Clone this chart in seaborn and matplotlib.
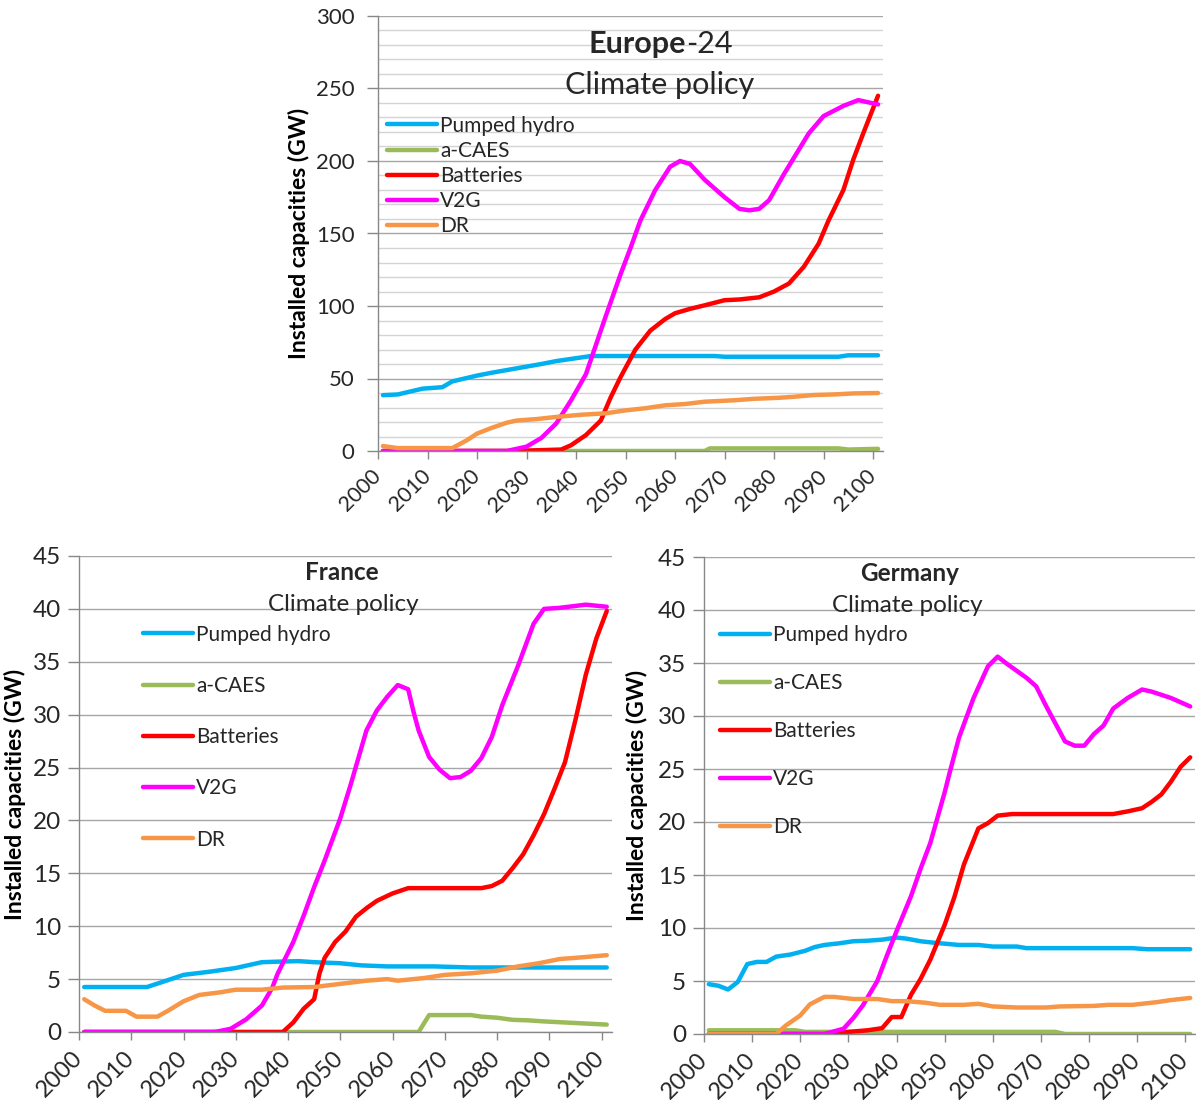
import matplotlib
matplotlib.use("Agg")
import matplotlib.pyplot as plt
from matplotlib.ticker import MultipleLocator
import seaborn as sns
import pandas as pd

SERIES = ["Pumped hydro", "a-CAES", "Batteries", "V2G", "DR"]
COLORS = ["#00B0F0", "#9BBB59", "#FF0000", "#FF00FF", "#F79646"]
YEAR_TICKS = [2000, 2010, 2020, 2030, 2040, 2050, 2060, 2070, 2080, 2090, 2100]

# ---------------- Europe-24 ----------------
EU_PH_YEARS = [2001, 2004, 2009, 2013, 2015, 2020, 2023, 2028, 2033, 2036, 2040, 2043, 2068, 2070, 2093, 2095, 2101]
EU_PH_VALUES = [38.5, 39, 43, 44, 48, 52, 54, 57, 60, 62, 64, 65.5, 65.5, 65, 65, 66, 66]
EU_CAES_YEARS = [2001, 2066, 2067, 2093, 2095, 2101]
EU_CAES_VALUES = [0, 0, 1.8, 1.8, 1.0, 1.5]
EU_BAT_YEARS = [2001, 2027, 2037, 2039, 2042, 2045, 2047, 2049, 2052, 2055, 2058, 2060, 2063, 2066,
                2070, 2073, 2077, 2080, 2083, 2086, 2089, 2091, 2094, 2096, 2098, 2101]
EU_BAT_VALUES = [0, 0, 1, 4, 11, 21, 37, 51, 70, 83, 91, 95, 98, 100.5,
                 104, 104.5, 106, 110, 115.5, 127, 143, 159, 180, 201, 219, 245]
EU_V2G_YEARS = [2001, 2026, 2030, 2033, 2036, 2039, 2042, 2044, 2046, 2049, 2051, 2053, 2056, 2059,
                2061, 2063, 2066, 2070, 2073, 2075, 2077, 2079, 2082, 2087, 2090, 2094, 2097, 2101]
EU_V2G_VALUES = [0, 0, 3, 9, 19, 35, 53, 73, 93, 122, 140, 159, 180, 196,
                 200, 198, 187, 175, 167, 166, 167, 173, 191, 219, 231, 238, 242, 239]
EU_DR_YEARS = [2001, 2004, 2015, 2018, 2020, 2023, 2026, 2028, 2032, 2036, 2041, 2046, 2050, 2054,
               2058, 2062, 2066, 2072, 2076, 2081, 2084, 2088, 2092, 2096, 2101]
EU_DR_VALUES = [3.4, 2, 2, 7.5, 12, 16, 19.5, 21, 22, 23.5, 25, 26, 28, 29.5,
                31.5, 32.4, 34, 35, 36, 36.7, 37.4, 38.6, 39, 39.7, 40]

# ---------------- France ----------------
FR_PH_YEARS = [2001, 2013, 2017, 2020, 2025, 2030, 2035, 2038, 2042, 2045, 2050, 2054, 2059, 2068, 2075, 2101]
FR_PH_VALUES = [4.25, 4.25, 4.9, 5.4, 5.7, 6.05, 6.6, 6.65, 6.7, 6.6, 6.5, 6.3, 6.2, 6.2, 6.1, 6.1]
FR_CAES_YEARS = [2001, 2065, 2067, 2075, 2077, 2080, 2083, 2086, 2089, 2093, 2097, 2101]
FR_CAES_VALUES = [0, 0, 1.6, 1.6, 1.45, 1.35, 1.15, 1.1, 1.0, 0.9, 0.8, 0.7]
FR_BAT_YEARS = [2001, 2039, 2041, 2043, 2045, 2046, 2047, 2049, 2051, 2053, 2055, 2057, 2060, 2063,
                2077, 2079, 2081, 2083, 2085, 2087, 2089, 2091, 2093, 2095, 2097, 2099, 2101]
FR_BAT_VALUES = [0, 0, 0.9, 2.2, 3.1, 5.5, 7.0, 8.5, 9.5, 10.9, 11.7, 12.4, 13.1, 13.6,
                 13.6, 13.8, 14.3, 15.5, 16.8, 18.6, 20.6, 23, 25.5, 29.5, 33.8, 37.2, 39.8]
FR_V2G_YEARS = [2001, 2026, 2029, 2030, 2032, 2035, 2037, 2038, 2041, 2043, 2045, 2047, 2050, 2052,
                2055, 2057, 2059, 2061, 2063, 2064, 2065, 2067, 2069, 2071, 2073, 2075, 2077, 2079,
                2081, 2084, 2087, 2089, 2092, 2097, 2101]
FR_V2G_VALUES = [0, 0, 0.3, 0.6, 1.2, 2.5, 4.2, 5.5, 8.5, 11, 13.7, 16.2, 20.2, 23.4,
                 28.5, 30.4, 31.7, 32.8, 32.4, 30.3, 28.5, 26, 24.8, 24, 24.1, 24.7, 25.9, 27.9,
                 30.9, 34.6, 38.6, 40, 40.1, 40.4, 40.2]
FR_DR_YEARS = [2001, 2003, 2005, 2009, 2011, 2015, 2017, 2020, 2023, 2027, 2030, 2035, 2039, 2045,
               2050, 2055, 2059, 2061, 2066, 2070, 2075, 2080, 2084, 2088, 2092, 2096, 2101]
FR_DR_VALUES = [3.1, 2.5, 2.0, 2.0, 1.45, 1.45, 2.0, 2.9, 3.5, 3.75, 4.0, 4.0, 4.2, 4.25,
                4.55, 4.85, 5.0, 4.85, 5.1, 5.4, 5.55, 5.8, 6.2, 6.5, 6.9, 7.05, 7.26]

# ---------------- Germany ----------------
DE_PH_YEARS = [2001, 2003, 2005, 2007, 2009, 2011, 2013, 2015, 2018, 2021, 2023, 2025, 2028, 2031,
               2034, 2037, 2040, 2042, 2045, 2048, 2053, 2057, 2060, 2065, 2067, 2089, 2092, 2101]
DE_PH_VALUES = [4.7, 4.55, 4.2, 4.9, 6.6, 6.8, 6.8, 7.3, 7.5, 7.85, 8.2, 8.4, 8.55, 8.75,
                8.8, 8.9, 9.1, 9.0, 8.75, 8.6, 8.4, 8.4, 8.25, 8.25, 8.1, 8.1, 8.0, 8.0]
DE_CAES_YEARS = [2001, 2019, 2021, 2073, 2075, 2101]
DE_CAES_VALUES = [0.35, 0.35, 0.2, 0.2, 0, 0]
DE_BAT_YEARS = [2001, 2027, 2030, 2034, 2037, 2039, 2041, 2043, 2045, 2047, 2050, 2052, 2054, 2057,
                2059, 2061, 2064, 2085, 2088, 2091, 2093, 2095, 2097, 2099, 2101]
DE_BAT_VALUES = [0, 0, 0.2, 0.35, 0.55, 1.6, 1.6, 3.7, 5.2, 7.0, 10.3, 12.9, 16.0, 19.4,
                 19.9, 20.6, 20.75, 20.75, 21.0, 21.3, 21.9, 22.6, 23.8, 25.2, 26.1]
DE_V2G_YEARS = [2001, 2025, 2029, 2031, 2033, 2036, 2038, 2040, 2043, 2045, 2047, 2050, 2051, 2053,
                2056, 2059, 2061, 2063, 2067, 2069, 2071, 2073, 2075, 2077, 2079, 2081, 2083, 2085,
                2088, 2091, 2093, 2097, 2101]
DE_V2G_VALUES = [0, 0, 0.5, 1.5, 2.7, 5, 7.4, 9.7, 13, 15.6, 18, 22.8, 24.6, 28,
                 31.7, 34.7, 35.6, 34.9, 33.6, 32.8, 31, 29.3, 27.6, 27.2, 27.2, 28.3, 29.1, 30.7,
                 31.7, 32.5, 32.3, 31.7, 30.9]
DE_DR_YEARS = [2001, 2015, 2017, 2020, 2022, 2025, 2027, 2031, 2036, 2039, 2042, 2046, 2049, 2054,
               2057, 2060, 2065, 2071, 2074, 2081, 2084, 2089, 2091, 2094, 2097, 2101]
DE_DR_VALUES = [0, 0, 0.8, 1.75, 2.8, 3.5, 3.5, 3.3, 3.3, 3.1, 3.1, 2.95, 2.75, 2.75,
                2.85, 2.6, 2.5, 2.5, 2.6, 2.65, 2.75, 2.75, 2.85, 3.0, 3.2, 3.4]


def make_df(parts):
    frames = []
    for name, (yrs, vals) in zip(SERIES, parts):
        frames.append(pd.DataFrame({"year": yrs, "value": vals, "series": name}))
    return pd.concat(frames, ignore_index=True)


EU_DF = make_df([(EU_PH_YEARS, EU_PH_VALUES), (EU_CAES_YEARS, EU_CAES_VALUES),
                 (EU_BAT_YEARS, EU_BAT_VALUES), (EU_V2G_YEARS, EU_V2G_VALUES),
                 (EU_DR_YEARS, EU_DR_VALUES)])
FR_DF = make_df([(FR_PH_YEARS, FR_PH_VALUES), (FR_CAES_YEARS, FR_CAES_VALUES),
                 (FR_BAT_YEARS, FR_BAT_VALUES), (FR_V2G_YEARS, FR_V2G_VALUES),
                 (FR_DR_YEARS, FR_DR_VALUES)])
DE_DF = make_df([(DE_PH_YEARS, DE_PH_VALUES), (DE_CAES_YEARS, DE_CAES_VALUES),
                 (DE_BAT_YEARS, DE_BAT_VALUES), (DE_V2G_YEARS, DE_V2G_VALUES),
                 (DE_DR_YEARS, DE_DR_VALUES)])

sns.set_theme(style="white")
plt.rcParams["font.family"] = ["Lato", "DejaVu Sans"]

W, H = 1196, 1106
fig = plt.figure(figsize=(W / 100, H / 100), dpi=100)


def px_axes(x0, x1, ytop, ybot):
    return fig.add_axes([x0 / W, 1 - ybot / H, (x1 - x0) / W, (ybot - ytop) / H])


ax_eu = px_axes(378, 883, 16, 451)
ax_fr = px_axes(79, 612, 556, 1032)
ax_de = px_axes(704, 1195, 557, 1034)

GRID = "#A6A6A6"
SPINE = "#888888"


def draw(ax, df, ymax, ystep, ytick_fs, xtick_fs, ypad, leg_pos, leg_spacing, label_x, minor=None):
    sns.lineplot(data=df, x="year", y="value", hue="series", hue_order=SERIES,
                 palette=COLORS, linewidth=3.2, estimator=None, sort=True,
                 legend=False, ax=ax)
    ax.set_xlim(2000, 2102)
    ax.set_ylim(0, ymax)
    ax.set_xticks(YEAR_TICKS)
    ax.set_xticklabels([str(y) for y in YEAR_TICKS], rotation=45, ha="right", va="center",
                       rotation_mode="anchor", fontsize=xtick_fs)
    ax.yaxis.set_major_locator(MultipleLocator(ystep))
    ax.tick_params(axis="y", labelsize=ytick_fs, left=True, length=8, width=1, color=SPINE, pad=ypad)
    ax.tick_params(axis="x", bottom=True, length=6, width=1, color=SPINE, pad=10)
    if minor:
        ax.yaxis.set_minor_locator(MultipleLocator(minor))
        ax.tick_params(axis="y", which="minor", left=False, length=0)
        ax.grid(axis="y", which="minor", color="#D4D4D4", linewidth=1)
    ax.grid(axis="y", which="major", color=GRID, linewidth=1)
    ax.grid(axis="x", visible=False)
    ax.set_axisbelow(True)
    for side in ("top", "right"):
        ax.spines[side].set_visible(False)
    for side in ("left", "bottom"):
        ax.spines[side].set_color(SPINE)
        ax.spines[side].set_linewidth(1)
    ax.set_xlabel("")
    ax.set_ylabel("Installed capacities (GW)", fontsize=16.5, fontweight="bold", color="black")
    ax.yaxis.set_label_coords(label_x, 0.5)
    handles = ax.get_lines()[:5]
    ax.legend(handles, SERIES, loc="upper left", bbox_to_anchor=leg_pos, frameon=False,
              fontsize=15, handlelength=2.4, handletextpad=0.15, labelspacing=leg_spacing,
              borderpad=0, borderaxespad=0)


draw(ax_eu, EU_DF, 300, 50, 16, 15.5, 9, (0.018, 0.771), 0.25, -0.135, minor=10)
draw(ax_fr, FR_DF, 45, 5, 17.5, 17, 5, (0.12, 0.856), 1.5, -0.099)
draw(ax_de, DE_DF, 45, 5, 17.5, 17, 5, (0.033, 0.857), 1.34, -0.114)

# Titles
ax_eu.text(0.610, 0.936, "Europe", transform=ax_eu.transAxes, ha="right", va="center",
           fontsize=22, fontweight="bold")
ax_eu.text(0.610, 0.936, "-24", transform=ax_eu.transAxes, ha="left", va="center", fontsize=22)
ax_eu.text(0.558, 0.841, "Climate policy", transform=ax_eu.transAxes, ha="center", va="center",
           fontsize=22)
ax_fr.text(0.493, 0.966, "France", transform=ax_fr.transAxes, ha="center", va="center",
           fontsize=17.5, fontweight="bold")
ax_fr.text(0.495, 0.899, "Climate policy", transform=ax_fr.transAxes, ha="center", va="center",
           fontsize=17.5)
ax_de.text(0.418, 0.966, "Germany", transform=ax_de.transAxes, ha="center", va="center",
           fontsize=17.5, fontweight="bold")
ax_de.text(0.415, 0.899, "Climate policy", transform=ax_de.transAxes, ha="center", va="center",
           fontsize=17.5)

fig.savefig("out.png", dpi=100, facecolor="white")
